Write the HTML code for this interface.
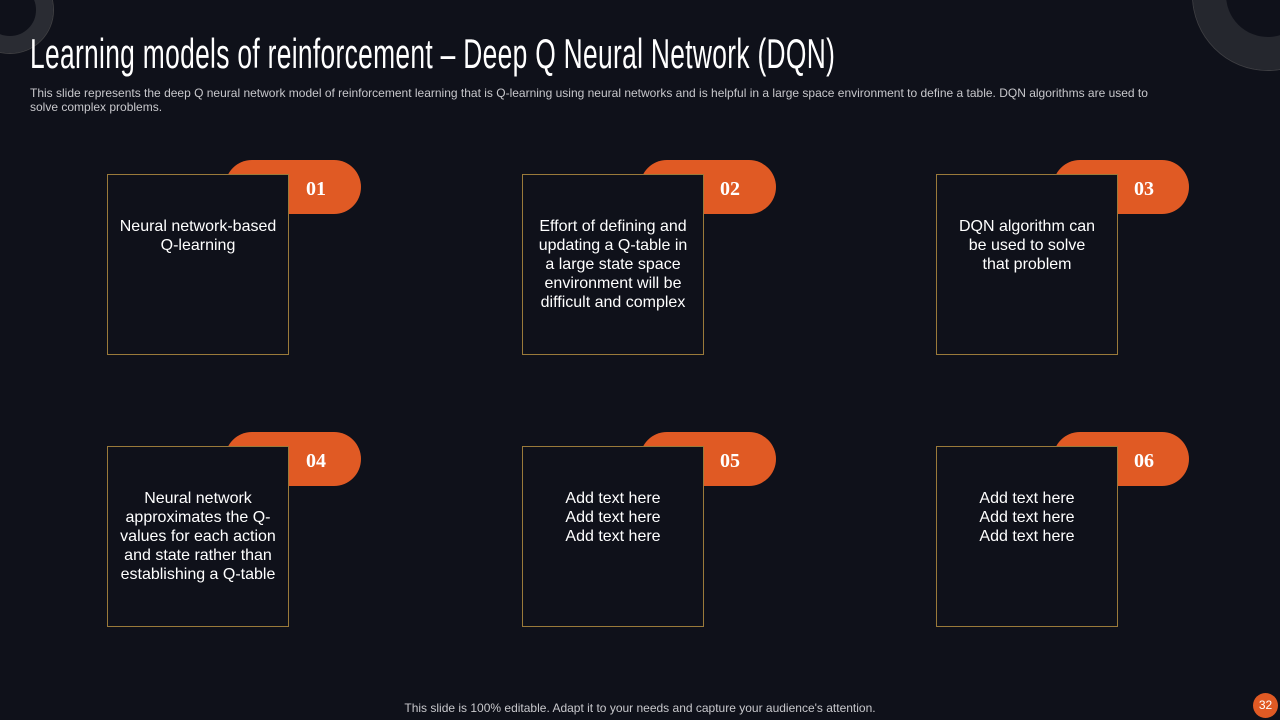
<!DOCTYPE html>
<html><head><meta charset="utf-8"><style>
body{margin:0;width:1280px;height:720px;background:#0f111a;overflow:hidden;position:relative;font-family:"Liberation Sans",sans-serif;}
.ring{position:absolute;border-radius:50%;box-sizing:border-box;}
.title{position:absolute;left:30px;top:30px;font-size:42px;color:#fff;white-space:nowrap;transform:scaleX(0.628);transform-origin:0 0;font-weight:normal;letter-spacing:0.5px;line-height:48px;}
.sub{position:absolute;left:30px;top:86px;width:1240px;font-size:12px;line-height:14px;color:#c8c8cc;white-space:nowrap;}
.pill{position:absolute;width:136px;height:54px;border-radius:27px;background:#e05a24;}
.num{position:absolute;width:60px;text-align:center;font-family:"Liberation Serif",serif;font-weight:bold;font-size:20px;color:#fff;line-height:54px;margin-top:2px;}
.box{position:absolute;width:182px;height:181px;box-sizing:border-box;border:1px solid #9a7a3a;background:#0f111a;color:#fff;font-size:16px;line-height:19px;text-align:center;padding:42px 17px 0;}
.foot{position:absolute;left:0;width:1280px;top:701px;text-align:center;font-size:12px;color:#c8c8cc;}
.pg{position:absolute;left:1253px;top:693px;width:25px;height:25px;border-radius:50%;background:#e05a24;color:#fff;font-size:12px;line-height:25px;text-align:center;}
</style></head><body>
<div class="ring" style="left:-33px;top:-33px;width:86px;height:86px;border:17px solid #2a2c33;box-shadow:0 0 0 1px #555a"></div>
<div class="ring" style="left:1193px;top:-80px;width:150px;height:150px;border:33px solid #25272e;box-shadow:0 0 0 1px #6668"></div>
<div class="title">Learning models of reinforcement – Deep Q Neural Network (DQN)</div>
<div class="sub">This slide represents the deep Q neural network model of reinforcement learning that is Q-learning using neural networks and is helpful in a large space environment to define a table. DQN algorithms are used to<br>solve complex problems.</div>

<div class="pill" style="left:225px;top:160px"></div><div class="num" style="left:286px;top:160px">01</div>
<div class="box" style="left:107px;top:174px;padding-left:8px;padding-right:8px">Neural network-based Q-learning</div>
<div class="pill" style="left:640px;top:160px"></div><div class="num" style="left:700px;top:160px">02</div>
<div class="box" style="left:522px;top:174px;padding-left:10px;padding-right:10px">Effort of defining and updating a Q-table in a large state space environment will be difficult and complex</div>
<div class="pill" style="left:1053px;top:160px"></div><div class="num" style="left:1114px;top:160px">03</div>
<div class="box" style="left:936px;top:174px;padding-left:20px;padding-right:20px">DQN algorithm can be used to solve that problem</div>

<div class="pill" style="left:225px;top:432px"></div><div class="num" style="left:286px;top:432px">04</div>
<div class="box" style="left:107px;top:446px;padding-left:10px;padding-right:10px">Neural network approximates the Q-values for each action and state rather than establishing a Q-table</div>
<div class="pill" style="left:640px;top:432px"></div><div class="num" style="left:700px;top:432px">05</div>
<div class="box" style="left:522px;top:446px">Add text here<br>Add text here<br>Add text here</div>
<div class="pill" style="left:1053px;top:432px"></div><div class="num" style="left:1114px;top:432px">06</div>
<div class="box" style="left:936px;top:446px">Add text here<br>Add text here<br>Add text here</div>

<div class="foot">This slide is 100% editable. Adapt it to your needs and capture your audience's attention.</div>
<div class="pg">32</div>
</body></html>
